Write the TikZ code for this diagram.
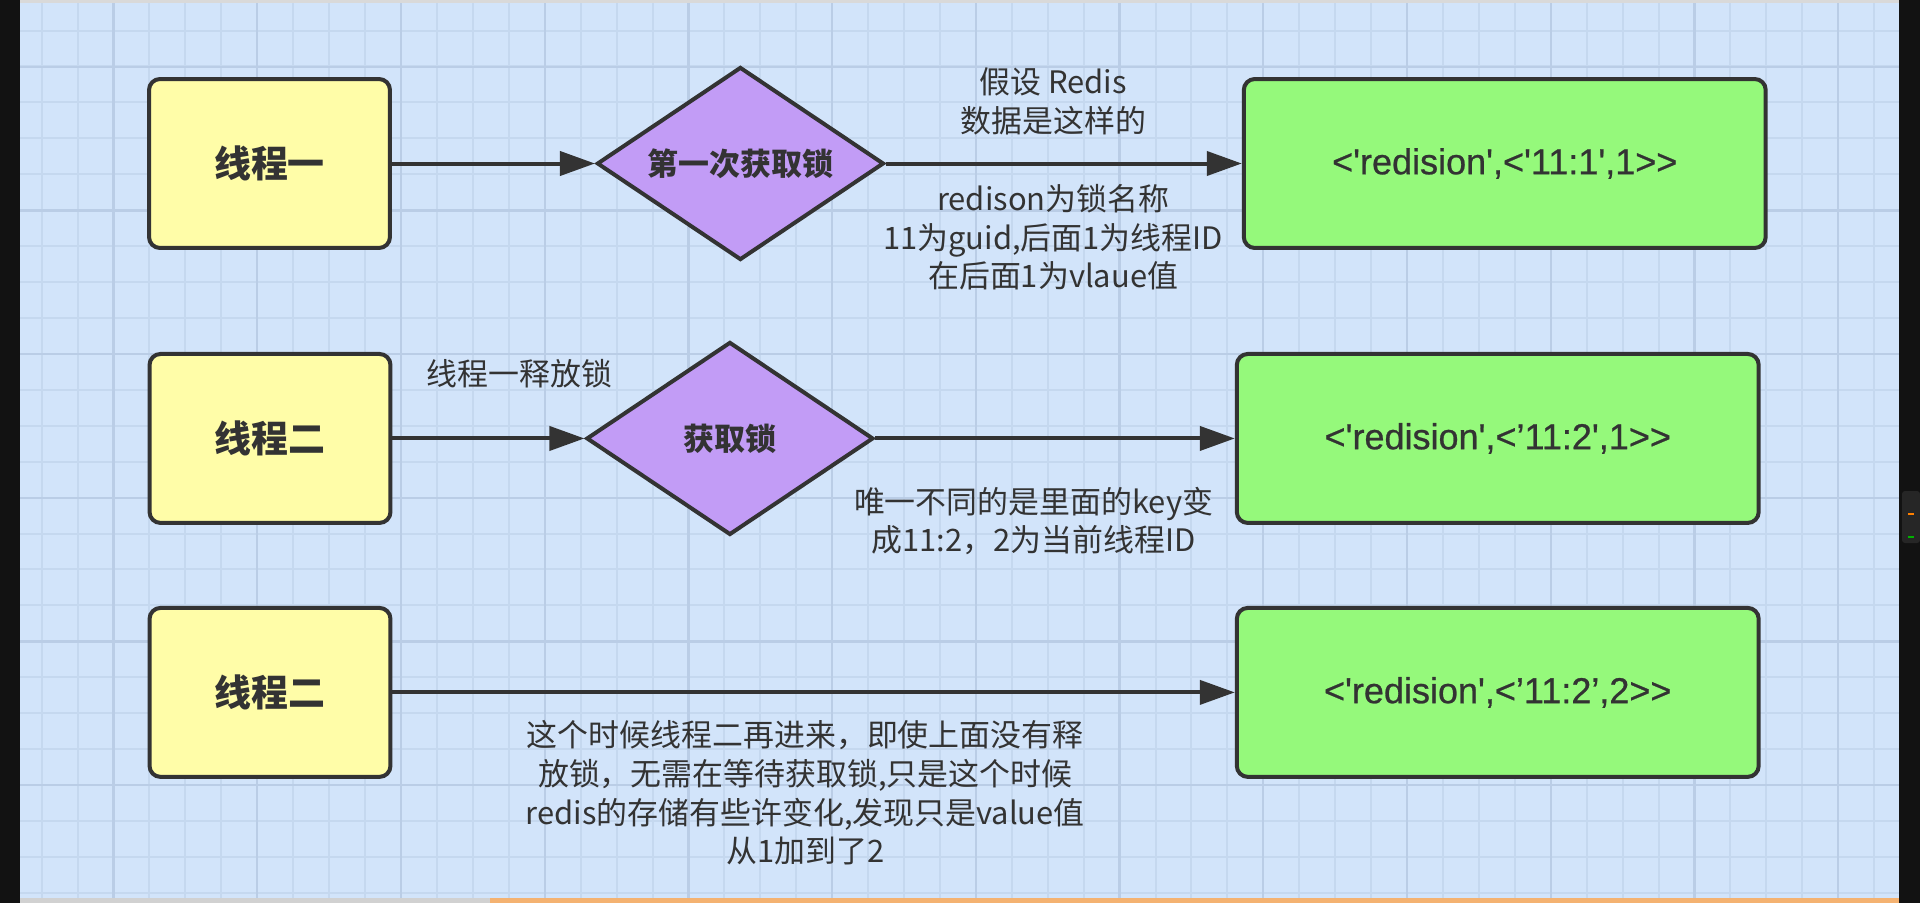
\documentclass[tikz,border=0pt]{standalone}
\usepackage{fontspec}
\setmainfont{Noto Sans CJK SC}
\newfontfamily\datafont{Liberation Sans}[Ligatures=TeXOff, FakeBold=0.7]
\usepackage{xcolor}
\usetikzlibrary{shapes.geometric, arrows.meta, positioning, backgrounds}
\definecolor{boardBlue}{HTML}{D2E4FA}
\definecolor{gridMinor}{HTML}{C5D8EF}
\definecolor{gridMajor}{HTML}{BACDE6}
\definecolor{inkDark}{HTML}{333333}
\definecolor{threadYellow}{HTML}{FFFDA8}
\definecolor{lockPurple}{HTML}{C29CF6}
\definecolor{dataGreen}{HTML}{95F97B}
\tikzstyle{thread} = [rectangle, rounded corners=0.22cm, minimum width=4.82cm, minimum height=3.38cm, text centered, draw=inkDark, line width=0.08cm, fill=threadYellow, text=inkDark, font=\fontsize{21pt}{25pt}\selectfont\bfseries]
\tikzstyle{decision} = [diamond, aspect=1.49, inner sep=0pt, minimum width=5.74cm, minimum height=3.86cm, text centered, draw=inkDark, line width=0.08cm, fill=lockPurple, text=inkDark, font=\fontsize{17.6pt}{21pt}\selectfont\bfseries]
\tikzstyle{databox} = [rectangle, rounded corners=0.22cm, minimum width=10.44cm, minimum height=3.38cm, text centered, draw=inkDark, line width=0.08cm, fill=dataGreen, text=inkDark, font=\datafont\fontsize{20.5pt}{24pt}\selectfont]
\tikzstyle{arrow} = [line width=0.08cm, draw=inkDark, -{Triangle[length=0.7cm, width=0.48cm]}]
\tikzstyle{notetext} = [text=inkDark, align=center, font=\fontsize{17.6pt}{22pt}\selectfont]

\begin{document}
\begin{tikzpicture}[x=0.02cm, y=-0.02cm, node distance=5.5cm]
\useasboundingbox (0,0) rectangle (1920,903);

% Nodes
\node (thread1) [thread] at (269.5,163.5) {线程一};
\node (lock1) [decision, right of=thread1, xshift=3.92cm] {第一次获取锁};
\node (data1) [databox, right of=lock1, xshift=9.79cm] {<'redision',<'11:1',1>>};
\node (thread2) [thread, below of=thread1, xshift=0.01cm] {线程二};
\node (lock2) [decision, right of=thread2, xshift=3.7cm] {获取锁};
\node (data2) [databox, right of=lock2, xshift=9.86cm] {<'redision',<’11:2',1>>};
\node (thread3) [thread, below of=thread2, yshift=0.42cm] {线程二};
\node (data3) [databox, below of=data2, yshift=0.42cm] {<'redision',<’11:2’,2>>};

% Links
\draw [arrow] (thread1) -- (lock1);
\draw [arrow] (lock1) -- node[notetext, pos=0.47, yshift=1.24cm] {假设 Redis\\数据是这样的}
    node[notetext, pos=0.47, yshift=-1.48cm] {redison为锁名称\\11为guid,后面1为线程ID\\在后面1为vlaue值} (data1);
\draw [arrow] (thread2) -- node[notetext, pos=0.66, yshift=1.3cm] {线程一释放锁} (lock2);
\draw [arrow] (lock2) -- node[notetext, pos=0.44, yshift=-1.65cm] {唯一不同的是里面的key变\\成11:2，2为当前线程ID} (data2);
\draw [arrow] (thread3) -- node[notetext, pos=0.49, yshift=-2.01cm] {这个时候线程二再进来，即使上面没有释\\放锁，无需在等待获取锁,只是这个时候\\redis的存储有些许变化,发现只是value值\\从1加到了2} (data3);

% Backgrounds
\begin{pgfonlayer}{background}
    \fill[boardBlue] (20,0) rectangle (1899,898);
    \foreach \k in {0,...,51}
        \draw[gridMinor, line width=0.04cm] ({41.7+35.93*\k},3) -- ({41.7+35.93*\k},898);
    \foreach \k in {0,...,24}
        \draw[gridMinor, line width=0.04cm] (20,{30.5+35.93*\k}) -- (1899,{30.5+35.93*\k});
    \foreach \k in {0,...,12}
        \draw[gridMajor, line width=0.045cm] ({113.5+143.72*\k},3) -- ({113.5+143.72*\k},898);
    \foreach \k in {0,...,5}
        \draw[gridMajor, line width=0.045cm] (20,{66.7+143.72*\k}) -- (1899,{66.7+143.72*\k});
    \fill[black!15] (20,0) rectangle (1899,3);
    \fill[black!18] (20,898) rectangle (490,903);
    \fill[orange!70!brown!60] (490,898) rectangle (1899,903);
    \fill[black!93] (0,0) rectangle (20,903);
    \fill[black!93] (1899,0) rectangle (1920,903);
    \fill[black!85, rounded corners=0.06cm] (1902,491) rectangle (1920,543);
    \draw[orange, line width=0.03cm] (1908,514) -- (1914,514);
    \draw[green!70!black, line width=0.03cm] (1908,537) -- (1914,537);
\end{pgfonlayer}

\end{tikzpicture}
\end{document}
